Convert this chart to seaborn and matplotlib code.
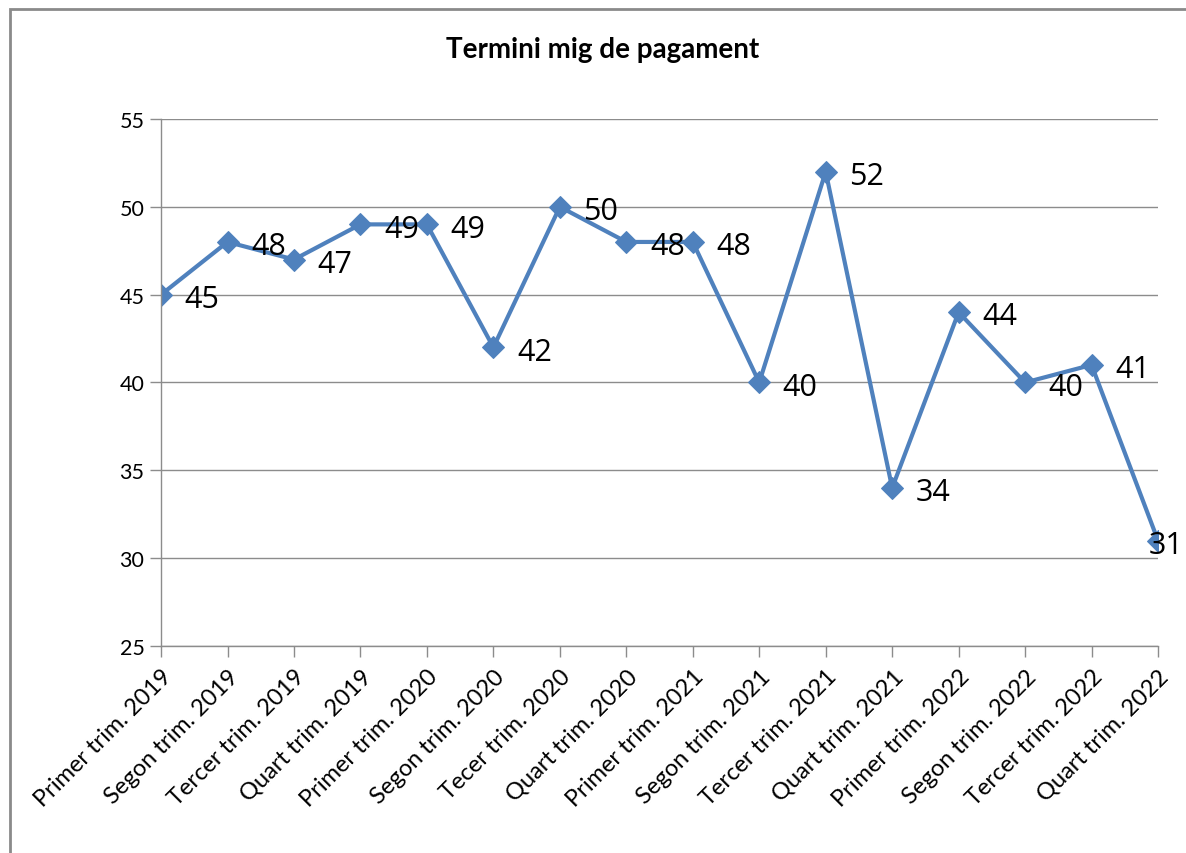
import numpy as np
import pandas as pd
import matplotlib.pyplot as plt
import seaborn as sns
from matplotlib.patches import Rectangle

sns.set_theme(style='white')
plt.rcParams['font.family'] = ['Lato', 'DejaVu Sans']
plt.rcParams['text.color'] = 'black'
plt.rcParams['xtick.color'] = 'black'
plt.rcParams['ytick.color'] = 'black'

# dades
trimestres = ["Primer trim. 2019", "Segon trim. 2019", "Tercer trim. 2019", "Quart trim. 2019",
              "Primer trim. 2020", "Segon trim. 2020", "Tecer trim. 2020", "Quart trim. 2020",
              "Primer trim. 2021", "Segon trim. 2021", "Tercer trim. 2021", "Quart trim. 2021",
              "Primer trim. 2022", "Segon trim. 2022", "Tercer trim. 2022", "Quart trim. 2022"]
dies = [45, 48, 47, 49, 49, 42, 50, 48, 48, 40, 52, 34, 44, 40, 41, 31]
yticks = [25, 30, 35, 40, 45, 50, 55]

df = pd.DataFrame({'pos': np.arange(len(trimestres)), 'dies': dies})

fig = plt.figure(figsize=(11.86, 8.54), dpi=100)
ax = fig.add_axes([0.1358, 0.2424, 0.8406, 0.6171])

blau = '#4F81BD'
sns.lineplot(data=df, x='pos', y='dies', sort=False, color=blau, linewidth=3,
             marker='D', markersize=11, markeredgecolor=blau, ax=ax)

n = len(df)
for i, (x, y) in enumerate(zip(df['pos'], df['dies'])):
    dx = 17 if i < n - 1 else -7  # l'última etiqueta queda sobre el punt
    ax.annotate(str(y), (x, y), xytext=(dx, -3), textcoords='offset points',
                ha='left', va='center', fontsize=22, color='black',
                family=['Open Sans', 'DejaVu Sans'], annotation_clip=False)

ax.set_xlim(0, n - 1)
ax.set_ylim(25, 55)
ax.set_yticks(yticks)
ax.set_yticklabels([str(v) for v in yticks], fontsize=15.5)
ax.set_xticks(df['pos'])
ax.set_xticklabels(trimestres, rotation=45, ha='right', rotation_mode='anchor', fontsize=17)
ax.set_xlabel('')
ax.set_ylabel('')
ax.grid(axis='y', color='#8c8c8c', linewidth=1)
ax.set_axisbelow(True)
for s in ['top', 'right']:
    ax.spines[s].set_visible(False)
for s in ['left', 'bottom']:
    ax.spines[s].set_color('#8c8c8c')
    ax.spines[s].set_linewidth(1)
ax.tick_params(axis='both', which='both', direction='out', length=8, width=1,
               color='#8c8c8c', labelcolor='black', left=True, bottom=True, pad=4)
ax.tick_params(axis='x', pad=6)

fig.text(0.508, 0.941, 'Termini mig de pagament', ha='center', va='center',
         fontsize=20, fontweight='bold', color='black')

# marc del gràfic
fig.patches.append(Rectangle((10 / 1186, -0.05), 1.2, 1 - 10 / 854 + 0.05,
                             transform=fig.transFigure, fill=False,
                             edgecolor='#8a8a8a', linewidth=2))

fig.savefig('out.png', dpi=100)
